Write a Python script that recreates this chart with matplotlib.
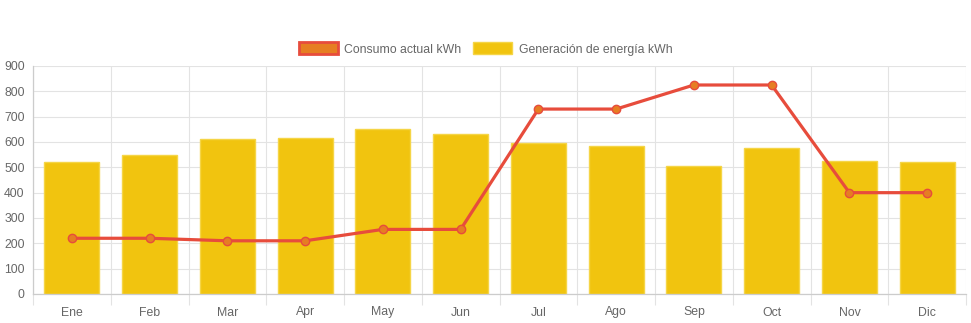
import numpy as np
import matplotlib.pyplot as plt
from matplotlib.patches import Patch

plt.rcParams['font.family'] = ['Liberation Sans', 'DejaVu Sans']

meses = ['Ene', 'Feb', 'Mar', 'Apr', 'May', 'Jun', 'Jul', 'Ago', 'Sep', 'Oct', 'Nov', 'Dic']
consumo = [220, 220, 210, 210, 255, 255, 730, 730, 825, 825, 400, 400]
generacion = [520, 550, 612, 615, 650, 630, 596, 584, 505, 576, 525, 520]

gris_texto = '#666666'
gris_grid = '#e3e3e3'

fig = plt.figure(figsize=(9.71, 3.23), dpi=100)
ax = fig.add_axes([33 / 971, 29 / 323, 933 / 971, 228 / 323])

x = np.arange(len(meses))

# barras de generación
ax.bar(x, generacion, width=0.71, color='#f1c40f', edgecolor='#f5d547',
       linewidth=1, zorder=2)

# línea de consumo
ax.plot(x, consumo, color='#e74c3c', linewidth=2.3, zorder=3,
        marker='o', markersize=6, markerfacecolor='#e67e22',
        markeredgecolor='#e74c3c', markeredgewidth=1)

ax.set_xlim(-0.5, len(meses) - 0.5)
ax.set_ylim(0, 900)
ax.set_yticks(range(0, 901, 100))
ax.set_xticks(x)
ax.set_xticklabels(meses)
ax.set_xticks(np.arange(-0.5, len(meses)), minor=True)

ax.grid(axis='y', color=gris_grid, linewidth=0.8, zorder=0)
ax.grid(axis='x', which='minor', color=gris_grid, linewidth=0.8, zorder=0)
ax.tick_params(axis='x', which='major', length=0, pad=9, labelsize=8.8, labelcolor=gris_texto)
ax.tick_params(axis='x', which='minor', length=8, color=gris_grid, width=0.8)
ax.tick_params(axis='y', length=0, pad=6, labelsize=8.8, labelcolor=gris_texto)

for lado in ['top', 'right']:
    ax.spines[lado].set_visible(False)
for lado in ['left', 'bottom']:
    ax.spines[lado].set_color('#cccccc')
    ax.spines[lado].set_linewidth(0.9)

handles = [
    Patch(facecolor='#e67e22', edgecolor='#e74c3c', linewidth=2, label='Consumo actual kWh'),
    Patch(facecolor='#f1c40f', edgecolor='#f5d547', linewidth=1, label='Generación de energía kWh'),
]
fig.legend(handles=handles, loc='center', bbox_to_anchor=(0.5, 1 - 49 / 323), ncol=2,
           frameon=False, fontsize=8.8, labelcolor=gris_texto,
           handlelength=3.2, handleheight=1.1, handletextpad=0.5, columnspacing=1.0)

fig.savefig('out.png', dpi=100)
